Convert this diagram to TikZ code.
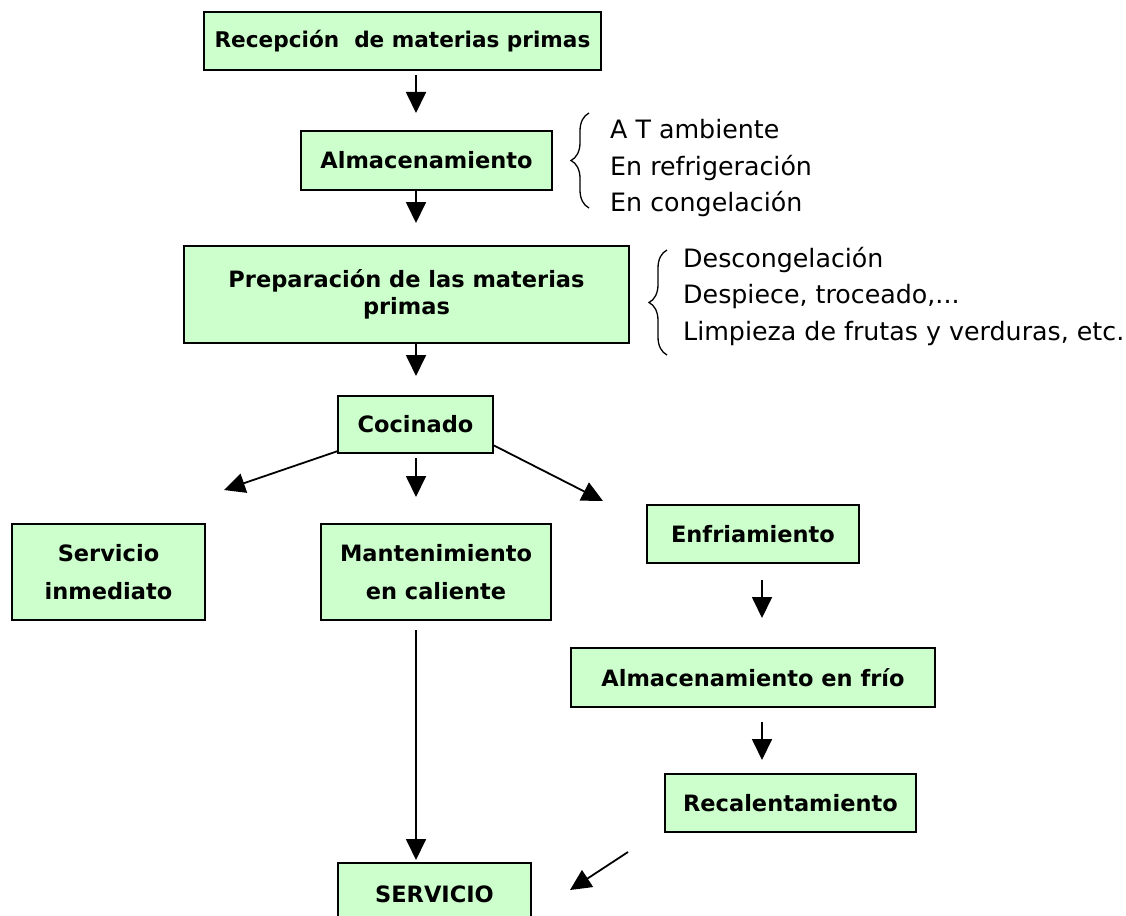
\documentclass[tikz,border=0pt]{standalone}
\usepackage{fontspec}
\setmainfont{DejaVu Sans}
\usetikzlibrary{arrows.meta,decorations.pathreplacing}
\definecolor{boxgreen}{HTML}{CCFFCC}
\begin{document}
\begin{tikzpicture}[x=1pt,y=-1pt,
  stepbox/.style={draw=black, fill=boxgreen, line width=1.7pt, inner sep=0pt, align=center,
    font=\fontsize{22.5}{38}\selectfont\bfseries},
  arr/.style={line width=1.8pt, -{Triangle[length=21pt,width=20pt]}},
  note/.style={anchor=base west, inner sep=0pt, font=\fontsize{25.3}{30}\selectfont},
  bracey/.style={line width=1.3pt, decorate, decoration={brace, amplitude=18pt}}]
\useasboundingbox[fill=white] (0,0) rectangle (1126,915);

% boxes
\node[stepbox, minimum width=397pt, minimum height=58pt, font=\fontsize{21.6}{38}\selectfont\bfseries] (rec) at (402.5,41) {Recepción\ \ de materias primas};
\node[stepbox, minimum width=251pt, minimum height=59pt] (alm) at (426.5,160.5) {Almacenamiento};
\node[stepbox, minimum width=445pt, minimum height=97pt, font=\fontsize{22.5}{27}\selectfont\bfseries] (prep) at (406.5,294.5) {Preparación de las materias\\primas};
\node[stepbox, minimum width=155pt, minimum height=57pt] (coc) at (415.5,424.5) {Cocinado};
\node[stepbox, minimum width=193pt, minimum height=96pt] (serv) at (108.5,572) {Servicio\\inmediato};
\node[stepbox, minimum width=230pt, minimum height=96pt] (mant) at (436,572) {Mantenimiento\\en caliente};
\node[stepbox, minimum width=212pt, minimum height=58pt] (enf) at (753,534) {Enfriamiento};
\node[stepbox, minimum width=364pt, minimum height=59pt] (almf) at (753,677.5) {Almacenamiento en frío};
\node[stepbox, minimum width=251pt, minimum height=58pt] (recal) at (790.5,803) {Recalentamiento};
\node[stepbox, minimum width=193pt, minimum height=62pt] (servicio) at (434.5,894) {SERVICIO};

% arrow end points
\coordinate (a1s) at (416,75);   \coordinate (a1e) at (416,113);
\coordinate (a2s) at (416,190);  \coordinate (a2e) at (416,223);
\coordinate (a3s) at (416,343);  \coordinate (a3e) at (416,376);
\coordinate (a4s) at (338,451);  \coordinate (a4e) at (224,490);
\coordinate (a5s) at (416,458);  \coordinate (a5e) at (416,497);
\coordinate (a6s) at (493,445);  \coordinate (a6e) at (603,501);
\coordinate (a7s) at (416,630);  \coordinate (a7e) at (416,860);
\coordinate (a8s) at (762,580);  \coordinate (a8e) at (762,618);
\coordinate (a9s) at (762,722);  \coordinate (a9e) at (762,760);
\coordinate (a10s) at (628,852); \coordinate (a10e) at (570,890);

\draw[arr] (a1s) -- (a1e);
\draw[arr] (a2s) -- (a2e);
\draw[arr] (a3s) -- (a3e);
\draw[arr] (a4s) -- (a4e);
\draw[arr] (a5s) -- (a5e);
\draw[arr] (a6s) -- (a6e);
\draw[arr] (a7s) -- (a7e);
\draw[arr] (a8s) -- (a8e);
\draw[arr] (a9s) -- (a9e);
\draw[arr] (a10s) -- (a10e);

% braces and notes
\draw[bracey] (589,208) -- (589,113);
\node[note] (n1) at (610,139) {A T ambiente};
\node[note] (n2) at (610,175) {En refrigeración};
\node[note] (n3) at (610,211) {En congelación};

\draw[bracey] (667,355) -- (667,250);
\node[note] (m1) at (683,267) {Descongelación};
\node[note] (m2) at (683,303) {Despiece, troceado,...};
\node[note] (m3) at (683,340) {Limpieza de frutas y verduras, etc.};
\end{tikzpicture}
\end{document}
